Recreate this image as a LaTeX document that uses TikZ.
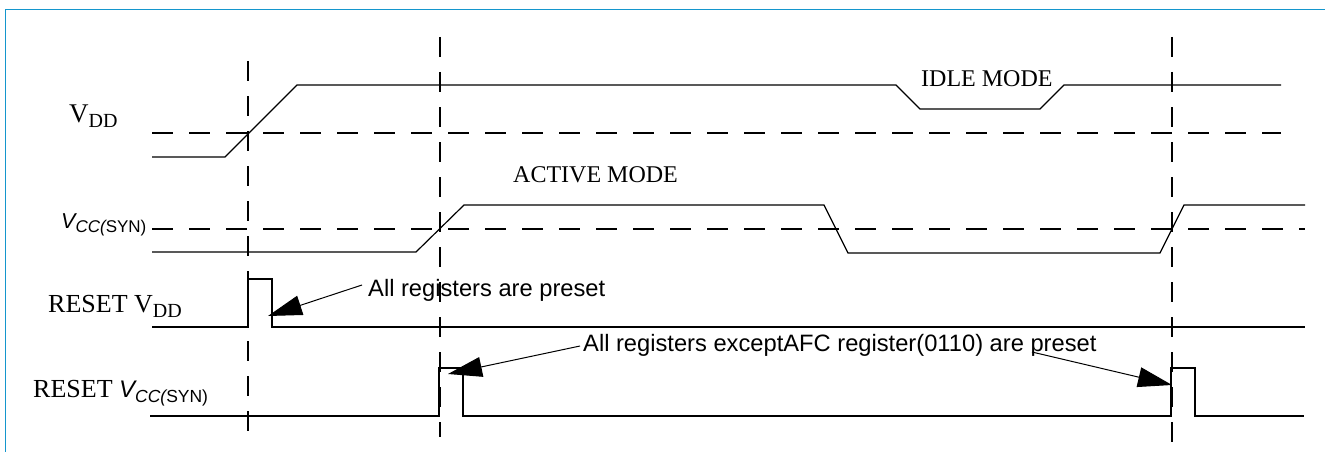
\documentclass[tikz,border=0pt]{standalone}
\usepackage{fontspec}
\setmainfont{Liberation Serif}
\setsansfont{Liberation Sans}
\usetikzlibrary{arrows.meta}
\definecolor{framecol}{RGB}{20,150,205}
\begin{document}
\begin{tikzpicture}[x=1pt,y=-1pt,
  sig/.style={line width=1.2pt, line join=miter},
  thr/.style={line width=1.1pt, dash pattern=on 21pt off 16pt},
  timeline/.style={line width=1.1pt, dash pattern=on 20pt off 15pt},
  lbl/.style={inner sep=0pt, anchor=base west},
  note/.style={inner sep=0pt, anchor=base west, font=\sffamily\fontsize{23.7}{24}\selectfont},
  modetext/.style={inner sep=0pt, anchor=base west, font=\fontsize{24}{24}\selectfont},
  callout/.style={line width=1pt, -{Triangle[length=34pt,width=20pt]}}]
\useasboundingbox (0,0) rectangle (1325,452);
% frame
\draw[framecol, line width=1.8pt] (5.5,452) -- (5.5,9.5) -- (1325,9.5);
% vertical markers
\draw[timeline] (248,61) -- (248,437);
\draw[timeline] (440,37) -- (440,437);
\draw[timeline] (1172,37) -- (1172,445);
% thresholds
\draw[thr] (152,133) -- (1281,133);
\draw[thr] (152,229) -- (1305,229);
% V_DD
\draw[sig] (152,157) -- (225,157) -- (297,85) -- (896,85) -- (920,109) -- (1040,109) -- (1064,85) -- (1281,85);
% V_CC(SYN)
\draw[sig] (152,252) -- (416,252) -- (464,205) -- (824,205) -- (848,253) -- (1160,253) -- (1184,205) -- (1305,205);
% RESET V_DD
\draw[sig] (152,327) -- (248,327) -- (248,279) -- (272,279) -- (272,327) -- (1305,327);
% RESET V_CC(SYN)
\draw[sig] (150,416) -- (439,416) -- (439,368) -- (463,368) -- (463,416) -- (1171,416) -- (1171,368) -- (1195,368) -- (1195,416) -- (1304,416);
% labels
\node[lbl] (lvdd) at (69,122) {\fontsize{27}{27}\selectfont V\raisebox{-5.5pt}{\fontsize{20}{20}\selectfont DD}};
\node[lbl] (lvcc) at (61,228) {\sffamily\fontsize{21.5}{22}\selectfont\itshape V\raisebox{-4.5pt}{\fontsize{17}{17}\selectfont CC(\upshape SYN)}};
\node[lbl] (lrvdd) at (48,312) {\fontsize{26}{26}\selectfont RESET V\raisebox{-5.5pt}{\fontsize{20}{20}\selectfont DD}};
\node[lbl] (lrvcc) at (33,397) {\fontsize{26}{26}\selectfont RESET {\sffamily\itshape\fontsize{24}{24}\selectfont V\raisebox{-5pt}{\fontsize{17.5}{17.5}\selectfont CC(\upshape SYN)}}};
\node[modetext] (active) at (513,182) {ACTIVE MODE};
\node[modetext] (idle) at (921,86) {IDLE MODE};
\node[note] (n1) at (368,296) {All registers are preset};
\node[note] (n2) at (583,351) {All registers exceptAFC register(0110) are preset};
% callouts
\coordinate (t1) at (268,316);
\coordinate (t2) at (448,374);
\coordinate (t3) at (1172,385);
\coordinate (s3) at (1032,352);
\draw[callout] ([xshift=-6pt,yshift=11pt]n1.base west) -- (t1);
\draw[callout] ([xshift=-3pt,yshift=5pt]n2.base west) -- (t2);
\draw[callout] (s3) -- (t3);
\end{tikzpicture}
\end{document}
